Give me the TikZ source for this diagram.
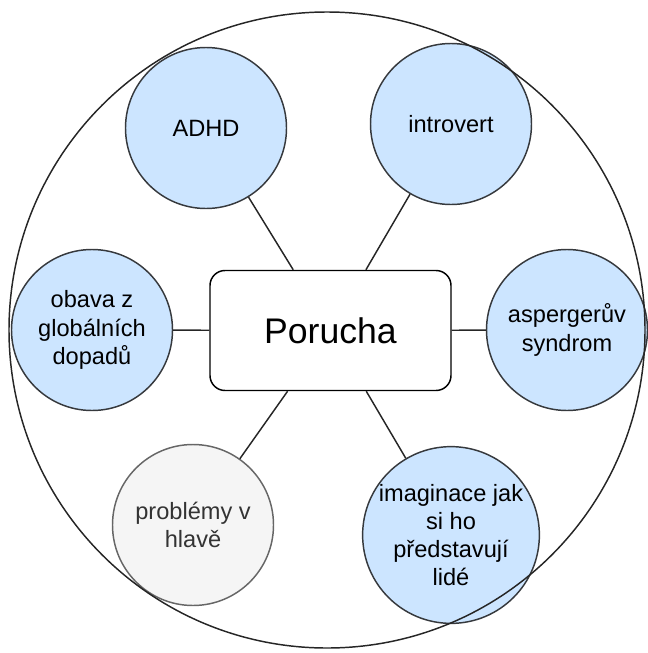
\documentclass[tikz,border=0pt]{standalone}
\usepackage{fontspec}
\setmainfont{Liberation Sans}
\begin{document}
\begin{tikzpicture}[x=0.75pt,y=-0.75pt,
  bubble/.style={circle,draw=strokegray,line width=1.1pt,fill=bubbleblue,
    minimum size=120.75pt,inner sep=0pt,align=center,
    font=\fontsize{17.7}{21.2}\selectfont},
  graybubble/.style={bubble,fill=bubblegray,draw=gray66,text=text33},
  corebox/.style={rectangle,draw=black,line width=1.1pt,fill=white,
    rounded corners=11.25pt,minimum width=180.75pt,minimum height=90pt,
    font=\fontsize{26.7}{32}\selectfont},
  link/.style={draw=black!85,line width=1.1pt}]
\definecolor{bubbleblue}{HTML}{CCE5FF}
\definecolor{bubblegray}{HTML}{F5F5F5}
\definecolor{strokegray}{HTML}{36393D}
\definecolor{gray66}{HTML}{666666}
\definecolor{text33}{HTML}{333333}
\useasboundingbox (0,0) rectangle (648,653);

% central box
\node[corebox] (core) at (330.5,330.5) {Porucha};

% surrounding topics
\node[bubble] (adhd) at (206,128) {ADHD};
\node[bubble] (intro) at (451,124) {introvert};
\node[bubble] (obava) at (92,330) {obava z\\globálních\\dopadů};
\node[bubble] (asper) at (567,330) {aspergerův\\syndrom};
\node[graybubble] (hlava) at (193,525) {problémy v\\hlavě};
\node[bubble] (imag) at (451,535) {imaginace jak\\si ho\\představují\\lidé};

% spokes
\foreach \n in {adhd,intro,obava,asper,hlava,imag}
  \draw[link] (\n) -- (core);

% enclosing circle
\node[circle,draw=black!85,line width=1.1pt,minimum size=477pt,inner sep=0pt]
  (outer) at (327,330) {};
\end{tikzpicture}
\end{document}
